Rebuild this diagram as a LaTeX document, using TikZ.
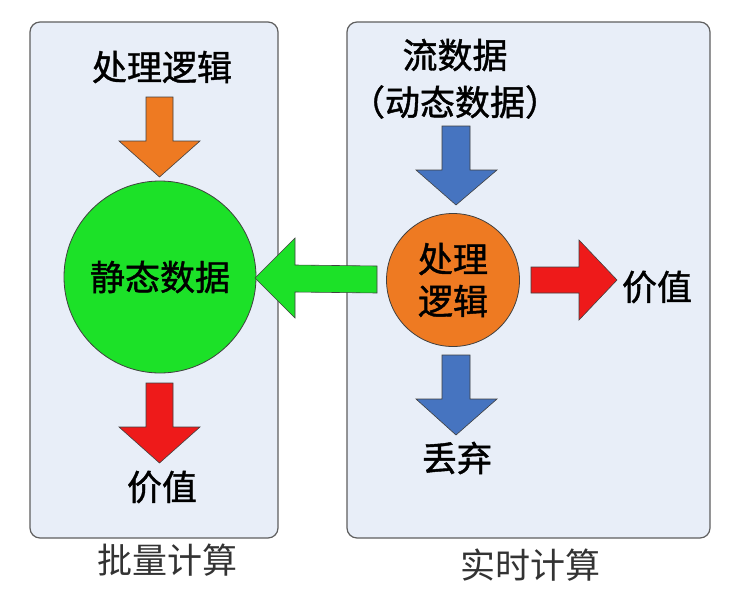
\documentclass[tikz,border=0pt]{standalone}
\usepackage{fontspec}
\newfontfamily\cjk{Noto Sans CJK SC}
\newfontfamily\cjkb[FakeBold=1.2]{Noto Sans CJK SC}
\definecolor{panelfill}{HTML}{E8EEF8}
\definecolor{panelline}{HTML}{5F5F5F}
\definecolor{cgreen}{HTML}{1CE128}
\definecolor{corange}{HTML}{EE7A22}
\definecolor{cred}{HTML}{EE1A1A}
\definecolor{cblue}{HTML}{4674C0}
\begin{document}
\begin{tikzpicture}[x=1pt,y=-1pt,
  panel/.style={draw=panelline,line width=1.2pt,fill=panelfill,rounded corners=10pt},
  blockarrow/.style={draw=black!75,line width=0.6pt,line join=miter},
  lbl/.style={font=\cjkb\fontsize{35}{38}\selectfont,text=black,inner sep=0pt},
  captxt/.style={font=\cjk\fontsize{35}{38}\selectfont,text=black!80,inner sep=0pt},
  ball/.style={circle,draw=black!75,line width=0.8pt,inner sep=0pt}]
\useasboundingbox (0,0) rectangle (730,597);
\fill[white] (0,0) rectangle (730,597);
% panels
\draw[panel] (30,22) rectangle (278,538);
\draw[panel] (347,22) rectangle (710,538);
% left side
\node[lbl] (logicL) at (162,67) {处理逻辑};
\draw[blockarrow,fill=corange] (146,97) -- (173,97) -- (173,141) -- (200,141) -- (159.5,177) -- (119,141) -- (146,141) -- cycle;
\node[ball,fill=cgreen,minimum size=192pt] (static) at (160,277) {};
\node[lbl] at (static.center) {静态数据};
\draw[blockarrow,fill=cred] (146,383) -- (173,383) -- (173,427) -- (200,427) -- (159.5,463) -- (119,427) -- (146,427) -- cycle;
\node[lbl] (valL) at (162,487) {价值};
\node[captxt] (batch) at (167,560) {批量计算};
% right side
\node[lbl] (stream) at (455,55) {流数据};
\node[lbl] (dyn) at (455,102) {（动态数据）};
\draw[blockarrow,fill=cblue] (442,126) -- (470,126) -- (470,170) -- (497,170) -- (456,205) -- (416,170) -- (442,170) -- cycle;
\node[ball,fill=corange,minimum size=133pt] (proc) at (453,280) {};
\node[lbl,align=center] at (proc.center) {处理\\[4pt]逻辑};
\draw[blockarrow,fill=cred] (531,267) -- (579,267) -- (579,240) -- (617,280) -- (579,320) -- (579,293) -- (531,293) -- cycle;
\node[lbl] (valR) at (657,287) {价值};
\draw[blockarrow,fill=cblue] (442,355) -- (470,355) -- (470,399) -- (497,399) -- (456,435) -- (416,399) -- (442,399) -- cycle;
\node[lbl] (drop) at (457,458) {丢弃};
\node[captxt] (realtime) at (530,565) {实时计算};
% green arrow from proc to static
\draw[blockarrow,fill=cgreen] (377,266) -- (295,265) -- (295,238) -- (255,278) -- (295,318) -- (295,292) -- (377,293) -- cycle;
\end{tikzpicture}
\end{document}
